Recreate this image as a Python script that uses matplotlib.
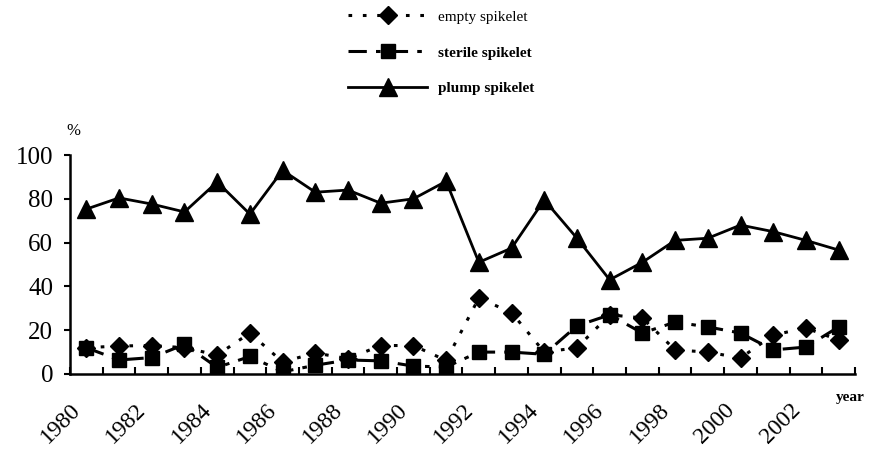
import matplotlib.pyplot as plt
import numpy as np

years = list(range(1980, 2004))
empty = [12, 12.8, 13, 12, 8.7, 18.7, 5.5, 9.6, 7, 13, 13, 6.2,
         34.7, 28, 10, 12, 27, 25.6, 11, 10, 7.3, 17.8, 21, 15.5]
sterile = [12, 6.4, 7.5, 13.5, 3, 8, 1, 4, 6.4, 6, 3.6, 3.2,
           10, 10, 9, 22, 27, 18.7, 23.7, 21.5, 18.7, 11, 12.3, 21.5]
plump = [75.3, 80.4, 77.6, 74, 87.7, 73, 93, 83, 84, 78, 80, 88,
         51, 57.5, 79.5, 62, 43, 51, 61, 62, 68, 65, 61, 56.6]
year_labels = [str(y) for y in range(1980, 2004, 2)]

plt.rcParams['font.family'] = ['Liberation Serif', 'DejaVu Serif']

fig = plt.figure(figsize=(8.77, 4.72), dpi=100)
ax = fig.add_axes([70 / 877, 1 - 374 / 472, 785 / 877, 219 / 472])

x = np.arange(len(years)) + 0.5
ax.plot(x, empty, color='black', linewidth=2.2, dashes=(1.2, 3.5),
        marker='D', markersize=9.5, label='empty spikelet')
ax.plot(x, sterile, color='black', linewidth=2.2, dashes=(6, 3, 1.5, 3),
        marker='s', markersize=10.5, label='sterile spikelet')
ax.plot(x, plump, color='black', linewidth=2, linestyle='-',
        marker='^', markersize=13, label='plump spikelet')

ax.set_xlim(0, len(years))
ax.set_ylim(0, 100)
ax.set_xticks(np.arange(0, len(years) + 1))
ax.set_xticklabels([year_labels[i // 2] if i % 2 == 0 and i // 2 < len(year_labels) else ''
                    for i in range(len(years) + 1)],
                   rotation=45, ha='right', va='top', rotation_mode='anchor')
ax.set_yticks(range(0, 101, 20))
ax.tick_params(axis='x', direction='in', length=5, width=1.5, labelsize=17, pad=18)
ax.tick_params(axis='y', direction='out', length=4, width=1.5, labelsize=18, pad=8)
for side in ['top', 'right']:
    ax.spines[side].set_visible(False)
for side in ['left', 'bottom']:
    ax.spines[side].set_linewidth(1.8)

fig.text(66 / 877, 1 - 131 / 472, '%', fontsize=12, ha='left', va='center')
fig.text(850 / 877, 1 - 398 / 472, 'year', fontsize=11, fontweight='bold',
         ha='center', va='center')

leg = fig.legend(loc='upper left', bbox_to_anchor=(348 / 877, 1 - 10 / 472),
                 frameon=False, fontsize=11, handlelength=5.2, handletextpad=0.7,
                 labelspacing=1.45, borderpad=0, borderaxespad=0)
for t in leg.get_texts()[1:]:
    t.set_fontweight('bold')

fig.savefig('out.png', dpi=100)
